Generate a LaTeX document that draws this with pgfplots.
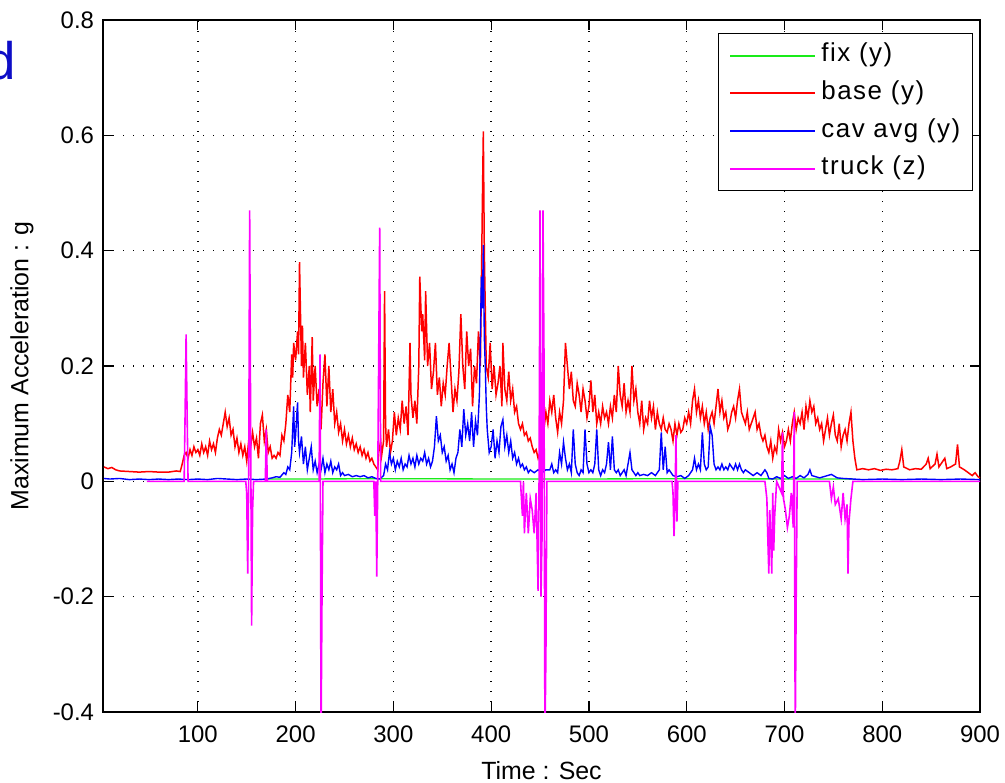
\documentclass[border=0pt]{standalone}
\usepackage{fontspec}
\setmainfont{Liberation Sans}
\usepackage{pgfplots}
\pgfplotsset{compat=1.18}
\definecolor{dblue}{rgb}{0.05,0.05,0.78}
\definecolor{mgreen}{rgb}{0.1,0.92,0.1}
\definecolor{mred}{rgb}{1,0,0}
\definecolor{mblue}{rgb}{0,0,1}
\definecolor{mmag}{rgb}{1,0,1}
\begin{document}
\begin{tikzpicture}
\begin{axis}[
 scale only axis, width=438.5bp, height=346bp,
 xmin=3, xmax=900, ymin=-0.4, ymax=0.8,
 xtick={100,200,300,400,500,600,700,800,900},
 xticklabels={100,200,300,400,500,600,700,800,900},
 ytick={-0.4,-0.2,0,0.2,0.4,0.6,0.8},
 yticklabels={-0.4,-0.2,0,0.2,0.4,0.6,0.8},
 /pgf/number format/assume math mode=true,
 tick align=inside, major tick length=5bp,
 tick style={black, line width=0.6bp},
 axis line style={black, line width=1bp},
 grid=major,
 major grid style={black, line width=0.7bp, dash pattern=on 0.7bp off 4.3bp},
 ticklabel style={font=\fontsize{12}{14}\selectfont},
 xticklabel style={yshift=-3.5bp},
 yticklabel style={xshift=-1bp},
 xlabel={Time : Sec},
 ylabel={Maximum Acceleration : g},
 label style={font=\fontsize{12.5}{15}\selectfont},
 xlabel style={at={(axis description cs:0.5,-0.084)}, anchor=center},
 ylabel style={at={(axis description cs:-0.0924,0.5)}, anchor=center},
 legend style={at={(rel axis cs:0.992,0.981)}, anchor=north east, draw=black, line width=0.6bp,
   font=\fontsize{13}{15}\selectfont\addfontfeatures{LetterSpace=6},
   inner xsep=5.5bp, inner ysep=4bp, row sep=4.85bp,
   column sep=2bp,
   nodes={inner sep=0.5bp, text height=9.5bp, text depth=3.5bp}},
 legend cell align=left,
]
% fix (y)
\addplot[color=mgreen, line width=0.65bp,
  legend image code/.code={\draw[color=mgreen, line width=1bp] (0bp,0bp) -- (42.5bp,0bp);}] coordinates {
(170,0.004) (300,0.0045) (450,0.004) (600,0.0045) (770,0.004)};
% base (y)
\addplot[color=mred, line width=0.75bp,
  legend image code/.code={\draw[color=mred, line width=1bp] (0bp,0bp) -- (42.5bp,0bp);}] coordinates {
(4,0.025) (8,0.022) (12,0.024) (16,0.02) (20,0.018) (30,0.017) (40,0.016) (50,0.017)
(60,0.016) (70,0.016) (78,0.018) (82,0.017) (84,0.03) (86,0.045) (88,0.05) (90,0.04)
(92,0.055) (94,0.045) (96,0.06) (98,0.05) (100,0.055) (102,0.045) (104,0.065) (106,0.05)
(108,0.06) (110,0.045) (112,0.07) (114,0.055) (116,0.065) (118,0.05) (120,0.075) (122,0.09)
(124,0.08) (126,0.1) (128,0.12) (130,0.095) (132,0.11) (134,0.08) (136,0.09) (138,0.06)
(140,0.075) (142,0.05) (144,0.065) (146,0.045) (148,0.06) (150,0.035) (152,0.07) (154,0.06)
(156,0.085) (158,0.06) (160,0.075) (162,0.04) (164,0.1) (166,0.115) (168,0.07) (170,0.09)
(172,0.05) (174,0.06) (176,0.04) (178,0.045) (180,0.04) (182,0.05) (184,0.045) (186,0.08)
(188,0.07) (190,0.1) (192,0.15) (194,0.12) (196,0.22) (197,0.18) (198,0.24) (200,0.21)
(202,0.26) (203,0.22) (204,0.38) (205,0.29) (206,0.2) (207,0.27) (208,0.18) (210,0.24)
(212,0.15) (214,0.2) (215,0.12) (217,0.25) (218,0.14) (220,0.2) (222,0.13) (224,0.16)
(226,0.09) (228,0.17) (230,0.22) (232,0.13) (234,0.2) (236,0.12) (238,0.16) (240,0.1)
(242,0.12) (244,0.085) (246,0.1) (248,0.07) (250,0.09) (252,0.065) (254,0.08) (256,0.06)
(258,0.075) (260,0.055) (262,0.065) (264,0.05) (266,0.06) (268,0.045) (270,0.055) (272,0.04)
(274,0.05) (276,0.035) (278,0.04) (280,0.03) (282,0.025) (284,0.02) (285,0.05) (287,0.07)
(288,0.045) (290,0.07) (291,0.33) (292,0.1) (293,0.06) (295,0.09) (297,0.05) (299,0.07)
(301,0.12) (303,0.08) (305,0.11) (307,0.09) (309,0.14) (311,0.1) (313,0.13) (315,0.08)
(317,0.24) (318,0.15) (320,0.11) (322,0.14) (324,0.1) (326,0.2) (327,0.355) (329,0.26)
(330,0.29) (332,0.21) (333,0.33) (335,0.2) (337,0.24) (339,0.16) (341,0.19) (343,0.24)
(345,0.15) (347,0.18) (349,0.13) (351,0.17) (353,0.15) (355,0.2) (357,0.24) (359,0.18)
(361,0.12) (363,0.16) (365,0.14) (367,0.19) (369,0.29) (371,0.2) (373,0.16) (375,0.26)
(377,0.2) (379,0.23) (381,0.13) (383,0.2) (385,0.17) (387,0.26) (389,0.2) (390,0.34)
(391,0.48) (392,0.607) (393,0.4) (394,0.3) (395,0.2) (397,0.18) (399,0.24) (401,0.16)
(403,0.2) (405,0.15) (407,0.17) (409,0.2) (411,0.13) (412,0.24) (414,0.16) (416,0.14)
(418,0.19) (420,0.14) (422,0.16) (424,0.12) (426,0.13) (428,0.1) (430,0.09) (432,0.1)
(434,0.08) (436,0.085) (438,0.07) (440,0.075) (442,0.06) (444,0.05) (446,0.055) (448,0.04)
(450,0.05) (452,0.06) (454,0.09) (456,0.12) (458,0.1) (460,0.14) (462,0.12) (464,0.15)
(466,0.11) (468,0.085) (470,0.12) (472,0.1) (474,0.14) (476,0.24) (478,0.2) (480,0.16)
(482,0.19) (484,0.14) (486,0.13) (488,0.17) (490,0.15) (492,0.12) (494,0.16) (496,0.14)
(498,0.11) (500,0.13) (502,0.175) (504,0.12) (506,0.15) (508,0.1) (510,0.12) (512,0.1)
(514,0.13) (516,0.11) (518,0.12) (520,0.1) (522,0.13) (524,0.11) (526,0.15) (528,0.12)
(530,0.2) (532,0.15) (534,0.13) (536,0.17) (538,0.12) (540,0.14) (542,0.12) (544,0.2)
(546,0.14) (548,0.16) (550,0.12) (552,0.1) (554,0.14) (556,0.09) (558,0.11) (560,0.1)
(562,0.14) (564,0.11) (566,0.13) (568,0.09) (570,0.12) (572,0.1) (574,0.09) (576,0.11)
(578,0.09) (580,0.085) (582,0.1) (584,0.09) (586,0.07) (588,0.1) (590,0.08) (592,0.1)
(594,0.085) (596,0.09) (598,0.11) (600,0.1) (602,0.12) (604,0.1) (606,0.14) (608,0.16)
(610,0.12) (612,0.14) (614,0.11) (616,0.13) (618,0.1) (620,0.12) (622,0.09) (624,0.11)
(626,0.12) (628,0.1) (630,0.13) (632,0.16) (634,0.12) (636,0.14) (638,0.11) (640,0.12)
(642,0.09) (644,0.1) (646,0.12) (648,0.13) (650,0.11) (652,0.14) (654,0.16) (656,0.12)
(658,0.11) (660,0.1) (662,0.12) (664,0.09) (666,0.1) (668,0.11) (670,0.12) (672,0.09)
(674,0.1) (676,0.08) (678,0.07) (680,0.08) (682,0.06) (684,0.05) (686,0.07) (688,0.04)
(690,0.06) (692,0.05) (694,0.09) (696,0.07) (698,0.085) (700,0.06) (702,0.07) (704,0.09)
(706,0.07) (708,0.1) (710,0.12) (712,0.09) (714,0.11) (716,0.1) (718,0.12) (720,0.09)
(722,0.13) (724,0.11) (726,0.14) (728,0.12) (730,0.13) (732,0.1) (734,0.11) (736,0.09)
(738,0.1) (740,0.07) (742,0.09) (744,0.11) (746,0.08) (748,0.1) (750,0.115) (752,0.08)
(754,0.07) (756,0.1) (758,0.06) (760,0.08) (762,0.09) (764,0.07) (766,0.1) (768,0.12)
(770,0.07) (772,0.04) (774,0.02) (780,0.022) (786,0.02) (792,0.022) (798,0.019) (804,0.021)
(810,0.02) (816,0.022) (818,0.035) (820,0.055) (822,0.025) (828,0.02) (834,0.022) (840,0.021)
(845,0.03) (847,0.04) (849,0.022) (854,0.03) (856,0.047) (858,0.025) (862,0.035) (864,0.04)
(866,0.022) (870,0.025) (875,0.03) (877,0.064) (879,0.025) (884,0.02) (888,0.015) (892,0.01)
(895,0.015) (898,0.008) (900,0.006)};
% cav avg (y)
\addplot[color=mblue, line width=0.7bp,
  legend image code/.code={\draw[color=mblue, line width=1bp] (0bp,0bp) -- (42.5bp,0bp);}] coordinates {
(4,0.005) (10,0.004) (20,0.005) (30,0.003) (40,0.004) (50,0.003) (60,0.004) (70,0.003)
(80,0.004) (90,0.003) (100,0.004) (110,0.003) (120,0.005) (130,0.004) (140,0.003) (150,0.004)
(160,0.003) (170,0.004) (176,0.006) (180,0.008) (184,0.007) (188,0.015) (190,0.012) (192,0.025)
(194,0.02) (196,0.05) (198,0.13) (199,0.06) (200,0.08) (202,0.137) (203,0.07) (204,0.05)
(206,0.078) (208,0.03) (210,0.06) (212,0.02) (214,0.04) (216,0.06) (218,0.02) (220,0.035)
(222,0.015) (224,0.03) (226,0.02) (228,0.04) (230,0.015) (232,0.03) (234,0.02) (236,0.035)
(238,0.015) (240,0.025) (242,0.02) (244,0.03) (246,0.01) (248,0.015) (250,0.01) (254,0.012)
(258,0.008) (262,0.01) (266,0.008) (270,0.01) (274,0.006) (278,0.008) (282,0.005) (286,0.004)
(290,0.01) (292,0.03) (294,0.02) (296,0.05) (298,0.03) (300,0.04) (302,0.02) (304,0.035)
(306,0.025) (308,0.04) (310,0.02) (312,0.03) (314,0.025) (316,0.045) (318,0.03) (320,0.04)
(322,0.025) (324,0.045) (326,0.03) (328,0.04) (330,0.035) (332,0.05) (334,0.03) (336,0.04)
(338,0.025) (340,0.035) (342,0.06) (344,0.113) (346,0.07) (348,0.08) (350,0.05) (352,0.06)
(354,0.035) (356,0.045) (358,0.02) (360,0.03) (362,0.015) (364,0.04) (366,0.05) (368,0.09)
(370,0.06) (372,0.125) (374,0.08) (376,0.1) (378,0.07) (380,0.12) (382,0.06) (384,0.105)
(386,0.08) (388,0.15) (389,0.25) (390,0.355) (391,0.3) (392,0.41) (393,0.25) (394,0.2)
(395,0.13) (396,0.09) (398,0.05) (400,0.06) (402,0.09) (404,0.04) (406,0.07) (408,0.05)
(410,0.095) (412,0.107) (414,0.06) (416,0.08) (418,0.05) (420,0.07) (422,0.04) (424,0.05)
(426,0.03) (428,0.04) (430,0.025) (432,0.03) (434,0.02) (436,0.025) (438,0.015) (440,0.02)
(444,0.015) (448,0.02) (452,0.015) (456,0.02) (460,0.02) (462,0.03) (464,0.015) (466,0.02)
(468,0.015) (470,0.05) (472,0.03) (474,0.068) (476,0.04) (478,0.02) (480,0.03) (482,0.015)
(484,0.09) (486,0.03) (488,0.015) (490,0.01) (492,0.02) (494,0.015) (496,0.09) (498,0.03)
(500,0.015) (502,0.02) (504,0.015) (506,0.03) (508,0.09) (510,0.02) (512,0.01) (514,0.02)
(516,0.015) (518,0.03) (520,0.068) (522,0.02) (524,0.078) (526,0.02) (528,0.015) (530,0.02)
(532,0.01) (534,0.015) (536,0.02) (538,0.01) (540,0.03) (542,0.05) (544,0.02) (546,0.015)
(548,0.01) (550,0.015) (552,0.01) (556,0.012) (560,0.01) (564,0.015) (568,0.01) (572,0.02)
(574,0.085) (576,0.02) (578,0.06) (580,0.015) (582,0.02) (586,0.01) (590,0.008) (594,0.01)
(598,0.005) (602,0.01) (606,0.02) (608,0.04) (610,0.02) (612,0.03) (614,0.02) (616,0.085)
(618,0.03) (620,0.02) (622,0.025) (624,0.095) (626,0.08) (628,0.03) (630,0.02) (632,0.025)
(634,0.02) (636,0.03) (638,0.02) (640,0.025) (642,0.02) (644,0.03) (646,0.025) (648,0.02)
(650,0.03) (652,0.02) (654,0.03) (656,0.02) (658,0.015) (660,0.02) (664,0.015) (668,0.01)
(672,0.015) (676,0.01) (680,0.02) (682,0.015) (684,0.005) (688,0.004) (692,0.008) (696,0.005)
(700,0.01) (704,0.005) (708,0.008) (712,0.005) (716,0.01) (720,0.006) (724,0.012) (726,0.02)
(728,0.01) (732,0.008) (736,0.006) (740,0.008) (744,0.01) (748,0.012) (750,0.01) (754,0.006)
(760,0.005) (770,0.004) (780,0.003) (800,0.004) (820,0.003) (840,0.004) (860,0.003) (880,0.004)
(900,0.003)};
% truck (z)
\addplot[color=mmag, line width=0.8bp,
  legend image code/.code={\draw[color=mmag, line width=1bp] (0bp,0bp) -- (42.5bp,0bp);}] coordinates {
(48,0) (86,0) (87,0.12) (88,0.255) (89,0.12) (90,0) (149,0) (150,-0.02) (151,-0.16) (152,0)
(153,0.47) (154,0.1) (155,-0.25) (156,-0.05) (157,0) (169,0) (170,0.09) (171,0) (224,0)
(225,0.22) (226,-0.45) (227,-0.2) (228,0) (280,0) (281,-0.06) (282,0) (283,-0.165) (284,0)
(285,0.22) (286,0.44) (287,0) (430,0) (432,-0.06) (433,0) (434,-0.09) (436,-0.02) (438,-0.09)
(440,-0.03) (442,-0.05) (444,-0.09) (446,-0.02) (448,-0.19) (449,0) (450,0.47) (451,-0.2)
(452,-0.1) (453,0.47) (454,0.23) (455,-0.45) (456,-0.3) (457,0) (585,0) (586,-0.02)
(587,-0.095) (588,-0.04) (589,0.08) (590,-0.07) (591,0) (680,0) (682,-0.03) (683,-0.1)
(684,-0.16) (685,-0.05) (686,-0.1) (687,-0.16) (688,-0.02) (689,-0.12) (690,-0.06) (692,0)
(697,-0.02) (698,0.085) (699,-0.03) (701,-0.05) (703,-0.08) (705,-0.06) (707,-0.02) (709,-0.08)
(710,0.12) (711,-0.45) (712,-0.2) (713,0) (746,0) (748,-0.03) (750,-0.01) (752,-0.04)
(755,-0.03) (758,-0.065) (760,-0.02) (762,-0.065) (764,-0.04) (765,-0.16) (766,-0.07)
(768,-0.03) (770,0) (900,0)};
\legend{fix (y), base (y), cav avg (y), truck (z)}
\end{axis}
\node[anchor=base west, text=dblue, font=\fontsize{26.5}{30}\selectfont, inner sep=0pt]
  at ([shift={(-58.5bp,316bp)}]current axis.south west) {d};
\pgfresetboundingbox
\path ([shift={(-51.5bp,-35bp)}]current axis.south west) rectangle ([shift={(12.5bp,10bp)}]current axis.north east);
\end{tikzpicture}
\end{document}
